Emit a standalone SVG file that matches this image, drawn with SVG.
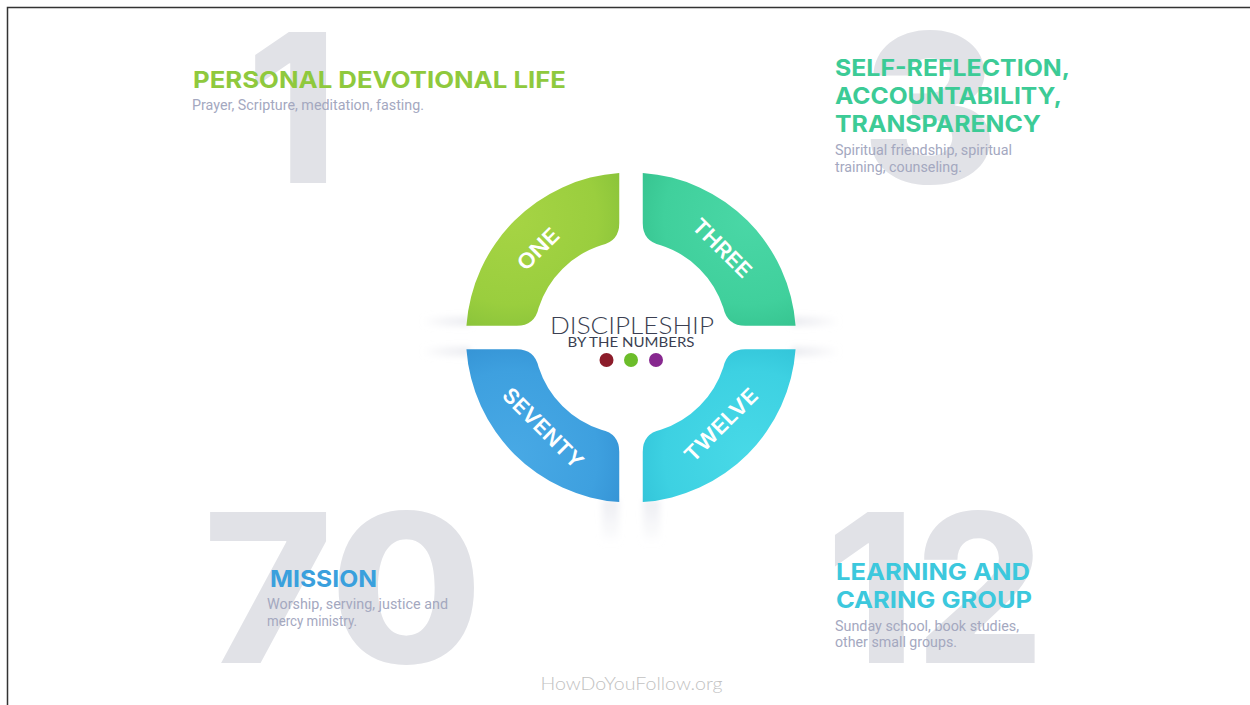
<svg xmlns="http://www.w3.org/2000/svg" width="1250" height="705" viewBox="0 0 1250 705">
  <defs>
    <style>
      .big { font-family: Inter, "Open Sans", sans-serif; font-weight: 800; font-size: 208px; fill: #e1e2e7; }
      .title { font-family: Inter, "Open Sans", sans-serif; font-weight: 700; font-size: 23px; }
      .sub { font-family: Roboto, "Liberation Sans", sans-serif; font-size: 14.5px; fill: #a4a8bf; }
      .seglabel { font-family: Inter, "Open Sans", sans-serif; font-weight: 600; font-size: 21px; fill: #ffffff; text-anchor: middle; }
      .c-green { fill: #8fc93d; }
      .c-teal { fill: #3ccb96; }
      .c-blue { fill: #3aa0dd; }
      .c-cyan { fill: #3cc8dd; }
    </style>
    <path id="seg" d="M-164.58,-11.75 A165,165 0 0 1 -11.75,-164.58 L-11.75,-114.29 Q-11.75,-96.29 -29.75,-92.33 A97,97 0 0 0 -92.33,-29.75 Q-96.29,-11.75 -114.29,-11.75 Z"/>
    <radialGradient id="gGreen" cx="0.3" cy="0.3" r="0.8">
      <stop offset="0" stop-color="#a6d444"/>
      <stop offset="0.7" stop-color="#9ace3e"/>
      <stop offset="1" stop-color="#88c23a"/>
    </radialGradient>
    <radialGradient id="gTeal" cx="0.3" cy="0.3" r="0.8">
      <stop offset="0" stop-color="#4ad7a6"/>
      <stop offset="0.7" stop-color="#40d09c"/>
      <stop offset="1" stop-color="#35c28e"/>
    </radialGradient>
    <radialGradient id="gCyan" cx="0.3" cy="0.3" r="0.8">
      <stop offset="0" stop-color="#48d9e7"/>
      <stop offset="0.7" stop-color="#3dd1e2"/>
      <stop offset="1" stop-color="#31c3d8"/>
    </radialGradient>
    <radialGradient id="gBlue" cx="0.3" cy="0.3" r="0.8">
      <stop offset="0" stop-color="#48a9e5"/>
      <stop offset="0.7" stop-color="#3ea0df"/>
      <stop offset="1" stop-color="#3492d4"/>
    </radialGradient>
    <linearGradient id="shL" x1="0" y1="0" x2="1" y2="0">
      <stop offset="0" stop-color="#e2e3ea" stop-opacity="0"/>
      <stop offset="1" stop-color="#e2e3ea" stop-opacity="0.75"/>
    </linearGradient>
    <linearGradient id="shR" x1="1" y1="0" x2="0" y2="0">
      <stop offset="0" stop-color="#e2e3ea" stop-opacity="0"/>
      <stop offset="1" stop-color="#e2e3ea" stop-opacity="0.75"/>
    </linearGradient>
    <linearGradient id="shD" x1="0" y1="1" x2="0" y2="0">
      <stop offset="0" stop-color="#e8e9ef" stop-opacity="0"/>
      <stop offset="1" stop-color="#e8e9ef" stop-opacity="0.8"/>
    </linearGradient>
    <filter id="blur" x="-50%" y="-50%" width="200%" height="200%">
      <feGaussianBlur stdDeviation="3"/>
    </filter>
  </defs>

  <rect x="0" y="0" width="1250" height="705" fill="#ffffff"/>
  <path d="M7.5,705 V7.5 H1250" fill="none" stroke="#333333" stroke-width="1.5"/>

  <!-- big background numbers -->
  <g id="bg-numbers">
    <text class="big" x="292" y="183" text-anchor="middle">1</text>
    <text class="big" x="930" y="183" text-anchor="middle">3</text>
    <text class="big" x="203" y="663" textLength="280" lengthAdjust="spacingAndGlyphs">70</text>
    <text class="big" x="826" y="663" textLength="218" lengthAdjust="spacingAndGlyphs">12</text>
  </g>

  <!-- shadows around the ring -->
  <g id="shadows" filter="url(#blur)">
    <rect x="422" y="317" width="48" height="9" fill="url(#shL)"/>
    <rect x="422" y="347" width="48" height="9" fill="url(#shL)"/>
    <rect x="792" y="317" width="48" height="9" fill="url(#shR)"/>
    <rect x="792" y="347" width="48" height="9" fill="url(#shR)"/>
    <rect x="602" y="500" width="17" height="45" fill="url(#shD)"/>
    <rect x="643" y="500" width="17" height="45" fill="url(#shD)"/>
  </g>

  <g id="connectors"></g>

  <!-- ring segments -->
  <g id="seg-one">
    <use href="#seg" transform="translate(631,337.5)" fill="url(#gGreen)"/>
    <text class="seglabel" transform="translate(538,249) rotate(-45)" y="7.5" textLength="50" lengthAdjust="spacingAndGlyphs">ONE</text>
  </g>
  <g id="seg-three">
    <use href="#seg" transform="translate(631,337.5) rotate(90)" fill="url(#gTeal)"/>
    <text class="seglabel" transform="translate(722,248) rotate(45)" y="7.5" textLength="74" lengthAdjust="spacingAndGlyphs">THREE</text>
  </g>
  <g id="seg-twelve">
    <use href="#seg" transform="translate(631,337.5) rotate(180)" fill="url(#gCyan)"/>
    <text class="seglabel" transform="translate(721,425) rotate(-45)" y="7.5" textLength="94" lengthAdjust="spacingAndGlyphs">TWELVE</text>
  </g>
  <g id="seg-seventy">
    <use href="#seg" transform="translate(631,337.5) rotate(270)" fill="url(#gBlue)"/>
    <text class="seglabel" transform="translate(543,428) rotate(45)" y="7.5" textLength="104" lengthAdjust="spacingAndGlyphs">SEVENTY</text>
  </g>

  <!-- center title -->
  <g id="center">
    <text x="550" y="333.5" font-family="Lato, 'Open Sans', sans-serif" font-weight="300" font-size="24" fill="#3b3f52" textLength="164" lengthAdjust="spacingAndGlyphs">DISCIPLESHIP</text>
    <text x="567.5" y="346.8" font-family="Lato, 'Open Sans', sans-serif" font-weight="400" font-size="14" fill="#3b3f52" textLength="127" lengthAdjust="spacingAndGlyphs">BY THE NUMBERS</text>
    <circle cx="606.5" cy="360" r="7" fill="#8c1c2a"/>
    <circle cx="631" cy="360" r="7" fill="#6cbd2a"/>
    <circle cx="656" cy="360" r="7" fill="#87288f"/>
  </g>

  <!-- panels -->
  <g id="panel-one">
    <text class="title c-green" x="193" y="87.5" textLength="373" lengthAdjust="spacingAndGlyphs">PERSONAL DEVOTIONAL LIFE</text>
    <text class="sub" x="192" y="110" textLength="232" lengthAdjust="spacingAndGlyphs">Prayer, Scripture, meditation, fasting.</text>
  </g>
  <g id="panel-three">
    <text class="title c-teal" x="835" y="75.5" textLength="235" lengthAdjust="spacingAndGlyphs">SELF-REFLECTION,</text>
    <text class="title c-teal" x="835" y="103.5" textLength="227" lengthAdjust="spacingAndGlyphs">ACCOUNTABILITY,</text>
    <text class="title c-teal" x="835" y="131.7" textLength="206" lengthAdjust="spacingAndGlyphs">TRANSPARENCY</text>
    <text class="sub" x="835" y="155" textLength="177" lengthAdjust="spacingAndGlyphs">Spiritual friendship, spiritual</text>
    <text class="sub" x="835" y="172" textLength="127" lengthAdjust="spacingAndGlyphs">training, counseling.</text>
  </g>
  <g id="panel-seventy">
    <text class="title c-blue" x="270" y="587.3" textLength="107" lengthAdjust="spacingAndGlyphs">MISSION</text>
    <text class="sub" x="267" y="609.3" textLength="181" lengthAdjust="spacingAndGlyphs">Worship, serving, justice and</text>
    <text class="sub" x="267" y="626" textLength="90" lengthAdjust="spacingAndGlyphs">mercy ministry.</text>
  </g>
  <g id="panel-twelve">
    <text class="title c-cyan" x="836" y="579.5" textLength="194" lengthAdjust="spacingAndGlyphs">LEARNING AND</text>
    <text class="title c-cyan" x="836" y="608.4" textLength="196" lengthAdjust="spacingAndGlyphs">CARING GROUP</text>
    <text class="sub" x="835" y="630.5" textLength="184" lengthAdjust="spacingAndGlyphs">Sunday school, book studies,</text>
    <text class="sub" x="835" y="647" textLength="122" lengthAdjust="spacingAndGlyphs">other small groups.</text>
  </g>

  <g id="footer">
    <text x="540.5" y="689.5" font-family="Lato, 'Open Sans', sans-serif" font-weight="300" font-size="18" fill="#c2c2c2" textLength="182" lengthAdjust="spacingAndGlyphs">HowDoYouFollow.org</text>
  </g>
</svg>
